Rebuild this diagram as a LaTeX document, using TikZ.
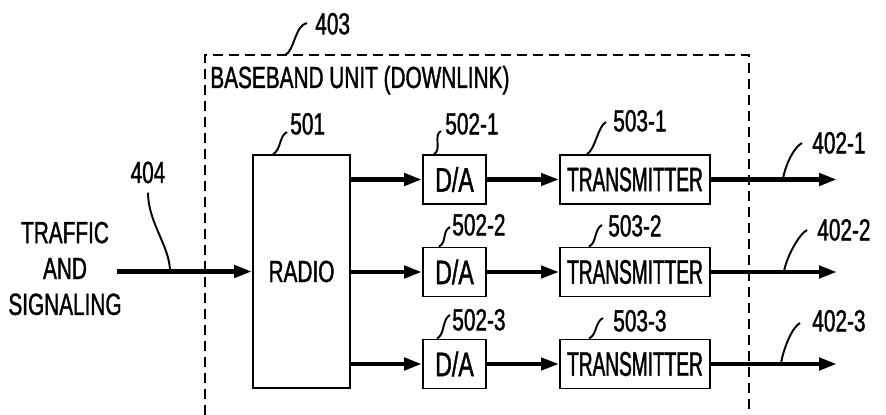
\documentclass[tikz,border=0pt]{standalone}
\usepackage{fontspec}
\setmainfont{Liberation Sans}[FakeStretch=0.68,FakeBold=1.2]
\newfontfamily\narrowfont{Liberation Sans}[FakeStretch=0.56,FakeBold=1.2]
\usetikzlibrary{arrows.meta,calc}
\newcommand\tagsize{\fontsize{17.4}{20.4}\selectfont}
\newcommand\blocksize{\fontsize{19.4}{22}\selectfont}
\tikzset{
  block/.style={draw, line width=1.1pt, inner sep=0pt, minimum height=0.98cm, font=\blocksize},
  flow/.style={line width=2.6pt, -{Triangle[length=0.36cm,width=0.24cm]}},
  thinflow/.style={line width=2.3pt, -{Triangle[length=0.36cm,width=0.24cm]}},
  leader/.style={line width=1.1pt},
  tag/.style={anchor=south west, inner sep=0pt, font=\tagsize},
  frame/.style={dash pattern=on 0.2cm off 0.12cm, line width=0.8pt},
}
\begin{document}
\begin{tikzpicture}[x=0.02cm,y=-0.02cm]
  \useasboundingbox (0,0) rectangle (886,415);

  % baseband unit, open at the bottom
  \draw[frame] (205,415) |- (749,55) -- (749,415);
  \coordinate (bbutop) at (285,55);
  \node[anchor=base west, inner sep=0pt, font=\tagsize] (bbu) at (210,88) {BASEBAND UNIT (DOWNLINK)};
  \node[tag] (l403) at (315,35) {403};
  \draw[leader] (bbutop) .. controls +(9,-3) and +(-12,2) .. ($(l403.south west)+(-8,-12)$);

  % input side
  \node[align=center, inner sep=0pt, font=\tagsize] (traffic) at (65,268.5) {TRAFFIC\\AND\\SIGNALING};
  \node[block, minimum width=1.94cm, minimum height=4.66cm, font=\tagsize] (radio) at (301.5,271.5) {RADIO};
  \coordinate (in) at (117,271.5);
  \draw[flow] (in) -- (radio.west);
  \coordinate (in404) at (170,271.5);
  \node[anchor=base, inner sep=0pt, font=\tagsize] (l404) at (148,183) {404};
  \draw[leader] (in404) .. controls +(0,-25) and +(0,30) .. ($(l404.south)+(0,9)$);
  \node[tag] (l501) at (290,135) {501};
  \draw[leader] ($(radio.north west)+(21,0)$) .. controls +(8,-4) and +(-8,4) .. ($(l501.south west)+(-3,-3)$);

  % three channels
  \foreach \y [count=\row] in {179.5,272,364} {
    \node[block, minimum width=1.26cm] (da\row) at (454.5,\y) {D/A};
    \node[block, minimum width=3cm, font=\blocksize\narrowfont] (tx\row) at (635,\y) {TRANSMITTER};
    \coordinate (out\row) at (837,\y);
    \draw[flow] (radio.east |- da\row.west) -- (da\row.west);
    \draw[thinflow] (da\row) -- (tx\row);
    \draw[flow] (tx\row) -- (out\row);
  }

  \node[tag] (l5021) at (445,135) {502-1};
  \node[tag] (l5031) at (613,132) {503-1};
  \node[tag] (l4021) at (812,154) {402-1};
  \node[tag] (l5022) at (452,236) {502-2};
  \node[tag] (l5032) at (608,237) {503-2};
  \node[tag] (l4022) at (817,241) {402-2};
  \node[tag] (l5023) at (452,331) {502-3};
  \node[tag] (l5033) at (613,332) {503-3};
  \node[tag] (l4023) at (812,332) {402-3};

  \draw[leader] ($(da1.north west)+(12,0)$) .. controls +(8,-4) and +(-8,4) .. ($(l5021.south west)+(-4,-4)$);
  \draw[leader] ($(tx1.north west)+(28,0)$) .. controls +(8,-4) and +(-8,4) .. ($(l5031.south west)+(-7,-10)$);
  \draw[leader] ($(tx1.east)+(72,0)$) .. controls +(2,-14) and +(-8,4) .. ($(l4021.south west)+(-10,-11)$);
  \draw[leader] ($(da2.north west)+(17,0)$) .. controls +(8,-4) and +(-8,4) .. ($(l5022.south west)+(-2,-9)$);
  \draw[leader] ($(tx2.north west)+(30,0)$) .. controls +(8,-4) and +(-8,4) .. ($(l5032.south west)+(-6,-12)$);
  \draw[leader] ($(tx2.east)+(73,0)$) .. controls +(2,-14) and +(-8,4) .. ($(l4022.south west)+(-10,-11)$);
  \draw[leader] ($(da3.north west)+(15,0)$) .. controls +(8,-4) and +(-8,4) .. ($(l5023.south west)+(-2,-16)$);
  \draw[leader] ($(tx3.north west)+(30,0)$) .. controls +(8,-4) and +(-8,4) .. ($(l5033.south west)+(-10,-14)$);
  \draw[leader] ($(tx3.east)+(70,0)$) .. controls +(2,-14) and +(-8,4) .. ($(l4023.south west)+(-12,-9)$);
\end{tikzpicture}
\end{document}
